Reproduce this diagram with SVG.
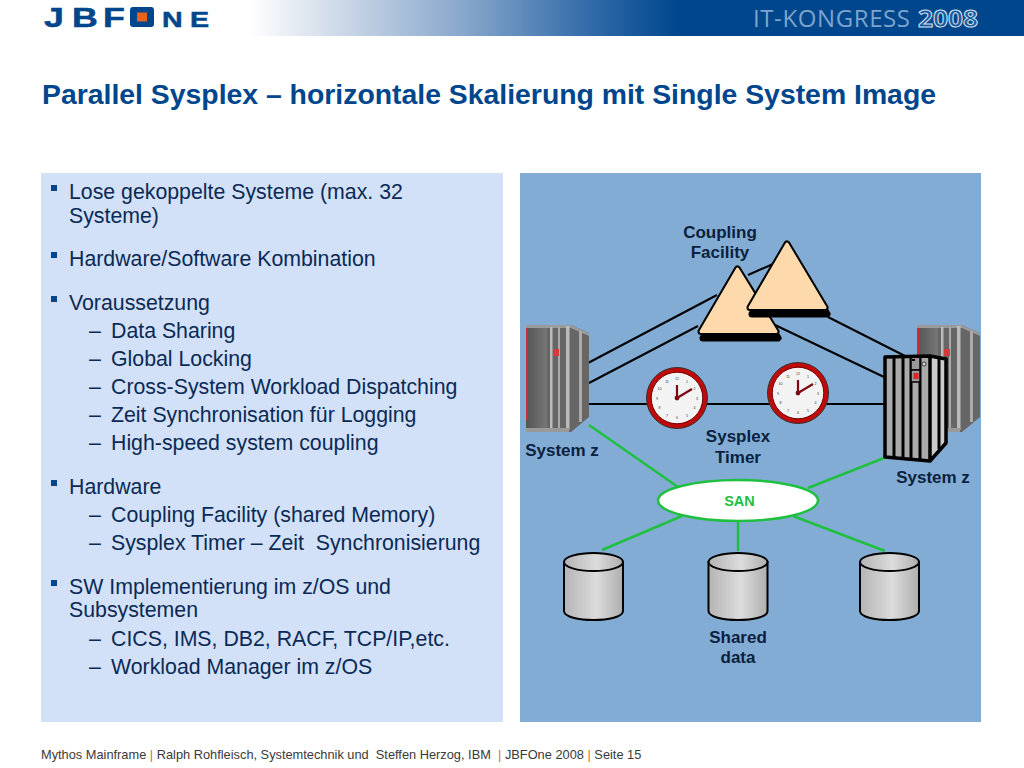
<svg xmlns="http://www.w3.org/2000/svg" width="1024" height="768" viewBox="0 0 1024 768">
<style>
text{font-family:"Liberation Sans",Arial,sans-serif;white-space:pre}
.b{font-size:21.3px;fill:#0a2a55}
.sq{fill:#00468c}
.lb{font-size:17px;font-weight:bold;fill:#0b1f3f;text-anchor:middle}
.tb{fill:#000;stroke:#000;stroke-width:7;stroke-linejoin:round}
.tp{fill:#fdd9ab;stroke:#fdd9ab;stroke-width:3;stroke-linejoin:round}
.k{stroke:#000;stroke-width:2;fill:none}
.g{stroke:#1fc040;stroke-width:2.5;fill:none}
.cyl{fill:url(#cg);stroke:#000;stroke-width:2}
.n{font-size:3.6px;fill:#333;text-anchor:middle}
.f{font-size:12.8px;fill:#3a3a3a}
.o{fill:#e07020;font-size:13px}
.bar{stroke:#000;stroke-width:3;fill:none}
</style>
<defs>
<linearGradient id="hg" x1="0" x2="1" y1="0" y2="0"><stop offset="0" stop-color="#fff"/><stop offset="0.15" stop-color="#dbe3ee"/><stop offset="0.5" stop-color="#86a6cb"/><stop offset="0.8" stop-color="#2f69a8"/><stop offset="1" stop-color="#00468c"/></linearGradient>
<linearGradient id="cg" x1="0" x2="1" y1="0" y2="0"><stop offset="0" stop-color="#b4b4b4"/><stop offset="0.55" stop-color="#dcdcdc"/><stop offset="1" stop-color="#aeaeae"/></linearGradient>
<linearGradient id="sg" x1="0" x2="1" y1="0" y2="0"><stop offset="0" stop-color="#555"/><stop offset="1" stop-color="#777"/></linearGradient>
<g id="server">
<path d="M0 1H45L63 9V93L45 108H0Z" fill="#666"/>
<path d="M0 1H45L63 9V12L45 4H0Z" fill="#9a9a9a"/>
<rect x="0" y="4" width="21" height="100" fill="url(#sg)"/>
<rect x="0" y="4" width="2" height="92" fill="#c4303a"/>
<rect x="24" y="3" width="2.500" height="102" fill="#bbb"/>
<rect x="32" y="3" width="2" height="102" fill="#aaa"/>
<rect x="40" y="2" width="3.500" height="104" fill="#bbb"/>
<rect x="53" y="7" width="3" height="91" fill="#aaa"/>
<rect x="27" y="25" width="6" height="7" fill="#d23a40"/>
<path d="M0 104H43V108H0Z" fill="#999"/>
</g>
<g id="clock">
<circle r="30.500" fill="#c00a0a" stroke="#333" stroke-width="1"/>
<circle r="25.800" fill="#f3f3f3" stroke="#700" stroke-width="1"/>
<text class="n" y="-18">12</text><text class="n" x="10" y="-15.500">1</text><text class="n" x="17.500" y="-8">2</text><text class="n" x="20" y="1.500">3</text><text class="n" x="17.500" y="11">4</text><text class="n" x="10" y="18.500">5</text><text class="n" y="21">6</text><text class="n" x="-10" y="18.500">7</text><text class="n" x="-17.500" y="11">8</text><text class="n" x="-20" y="1.500">9</text><text class="n" x="-17.500" y="-8">10</text><text class="n" x="-10" y="-15.500">11</text>
<path d="M0 0V-13M0 0L15 -9" stroke="#7a0a14" stroke-width="2.200" fill="none"/>
<circle r="2.400" fill="#7a0a14"/>
</g>
<g id="cyl">
<path class="cyl" d="M0 9V58C0 70 59 70 59 58V9Z"/>
<ellipse class="cyl" cx="29.500" cy="9" rx="29.500" ry="9"/>
</g>
</defs>

<g id="header">
<rect x="250" y="0" width="430" height="36" fill="url(#hg)"/>
<rect x="679" y="0" width="345" height="36" fill="#00468c"/>
<text transform="translate(44,27) scale(1.3,1)" x="0 21.500 45.400" font-size="27.500" font-weight="bold" fill="#00468c" stroke="#00468c" stroke-width=".5">JBF</text>
<rect x="130" y="7" width="24" height="20" rx="3" fill="#00468c"/>
<rect x="137" y="12.500" width="10" height="9" fill="#e8641e"/>
<text transform="translate(162,27) scale(1.3,1)" x="0 21.500" font-size="22" font-weight="bold" fill="#00468c" stroke="#00468c" stroke-width=".5">NE</text>
<text x="753" y="27" font-size="24" fill="#7da4cd" style="font-family:'Open Sans',sans-serif" textLength="157" lengthAdjust="spacing">IT-KONGRESS</text>
<text x="918" y="27" font-size="24" font-weight="bold" fill="#1d5a9c" stroke="#cfe0f0" stroke-width="1" style="font-family:'Open Sans',sans-serif" textLength="60" lengthAdjust="spacingAndGlyphs">2008</text>
</g>

<text id="title" x="42" y="104" font-size="28" font-weight="bold" fill="#00468c" textLength="894" lengthAdjust="spacingAndGlyphs">Parallel Sysplex – horizontale Skalierung mit Single System Image</text>

<g id="leftPanel">
<rect x="41" y="173" width="462" height="549" fill="#d2e1f8"/>
<rect class="sq" x="51" y="185" width="6" height="6"/><text class="b" x="69" y="199">Lose gekoppelte Systeme (max. 32</text>
<text class="b" x="69" y="223">Systeme)</text>
<rect class="sq" x="51" y="252" width="6" height="6"/><text class="b" x="69" y="266">Hardware/Software Kombination</text>
<rect class="sq" x="51" y="296" width="6" height="6"/><text class="b" x="69" y="310">Voraussetzung</text>
<text class="b" x="89" y="338">–</text><text class="b" x="111" y="338">Data Sharing</text>
<text class="b" x="89" y="366">–</text><text class="b" x="111" y="366">Global Locking</text>
<text class="b" x="89" y="394">–</text><text class="b" x="111" y="394">Cross-System Workload Dispatching</text>
<text class="b" x="89" y="422">–</text><text class="b" x="111" y="422">Zeit Synchronisation für Logging</text>
<text class="b" x="89" y="450">–</text><text class="b" x="111" y="450">High-speed system coupling</text>
<rect class="sq" x="51" y="480" width="6" height="6"/><text class="b" x="69" y="494">Hardware</text>
<text class="b" x="89" y="522">–</text><text class="b" x="111" y="522">Coupling Facility (shared Memory)</text>
<text class="b" x="89" y="550">–</text><text class="b" x="111" y="550">Sysplex Timer – Zeit  Synchronisierung</text>
<rect class="sq" x="51" y="580" width="6" height="6"/><text class="b" x="69" y="594">SW Implementierung im z/OS und</text>
<text class="b" x="69" y="617">Subsystemen</text>
<text class="b" x="89" y="646">–</text><text class="b" x="111" y="646">CICS, IMS, DB2, RACF, TCP/IP,etc.</text>
<text class="b" x="89" y="674">–</text><text class="b" x="111" y="674">Workload Manager im z/OS</text>
</g>

<rect id="rightPanel" x="520" y="173" width="461" height="549" fill="#82acd3"/>

<g id="connectors">
<path class="k" d="M588 363L717 295M748 275L773 264M589 383L698 326M828 317L905 356M775 325L884 377M589 404H884"/>
<path class="g" d="M589 425L678 487M884 458L808 488M682 516L602 550M738 521V551M793 516L885 551"/>
</g>

<g id="serverLeft"><use href="#server" x="526" y="324"/></g>
<g id="serverRight"><use href="#server" x="917" y="324"/></g>
<g id="serverFront">
<path d="M885 357L930 356L946 359V443L930 461L885 457Z" fill="#aaa"/>
<path d="M930 357L946 360V443L930 461Z" fill="#ccc"/>
<path class="bar" d="M894 358V458M903 358V459M911 358V460M920 358V460M939 359V449"/>
<rect x="911" y="357" width="9" height="13" fill="#999" stroke="#000" stroke-width="1.500"/>
<rect x="911" y="370" width="9" height="12" fill="#999" stroke="#000" stroke-width="1.500"/>
<rect x="913.500" y="373" width="5" height="6" fill="#e0202a"/>
<rect x="912" y="359" width="3" height="2" fill="#000"/>
<circle cx="924" cy="364" r="2" fill="#ddd" stroke="#333"/>
<path d="M885 357L930 356L946 359V443L930 461L885 457ZM930 356V461" fill="none" stroke="#000" stroke-width="3.500" stroke-linejoin="round"/>
</g>

<g id="couplingFacility1">
<path class="tb" transform="translate(2,6.500)" d="M737.500 269L776 331.500H701Z"/>
<path class="tb" d="M737.500 269L776 331.500H701Z"/>
<path class="tp" d="M737.500 269L776 331.500H701Z"/>
</g>
<g id="couplingFacility2">
<path class="tb" transform="translate(2,6.500)" d="M787 244L825 307.500H750Z"/>
<path class="tb" d="M787 244L825 307.500H750Z"/>
<path class="tp" d="M787 244L825 307.500H750Z"/>
</g>

<g id="clock1"><use href="#clock" x="677" y="398"/></g>
<g id="clock2"><use href="#clock" x="798" y="393"/></g>

<g id="san">
<ellipse cx="738" cy="500.500" rx="80" ry="20.500" fill="#fff" stroke="#1fc040" stroke-width="2.500"/>
<text x="739.500" y="506" font-size="14.500" font-weight="bold" fill="#1fc040" text-anchor="middle">SAN</text>
</g>

<g id="disk1"><use href="#cyl" x="564" y="553"/></g>
<g id="disk2"><use href="#cyl" x="708.500" y="553"/></g>
<g id="disk3"><use href="#cyl" x="860" y="553"/></g>

<g id="labels">
<text class="lb" x="720" y="238">Coupling</text>
<text class="lb" x="720" y="258">Facility</text>
<text class="lb" x="562" y="456">System z</text>
<text class="lb" x="738" y="442">Sysplex</text>
<text class="lb" x="738" y="463">Timer</text>
<text class="lb" x="933" y="483">System z</text>
<text class="lb" x="738" y="643">Shared</text>
<text class="lb" x="738" y="663">data</text>
</g>

<g id="footer">
<text class="f" x="41" y="759">Mythos Mainframe <tspan class="o">|</tspan> Ralph Rohfleisch, Systemtechnik und  Steffen Herzog, IBM  <tspan class="o">|</tspan> JBFOne 2008 <tspan class="o">|</tspan> Seite 15</text>
</g>
</svg>
